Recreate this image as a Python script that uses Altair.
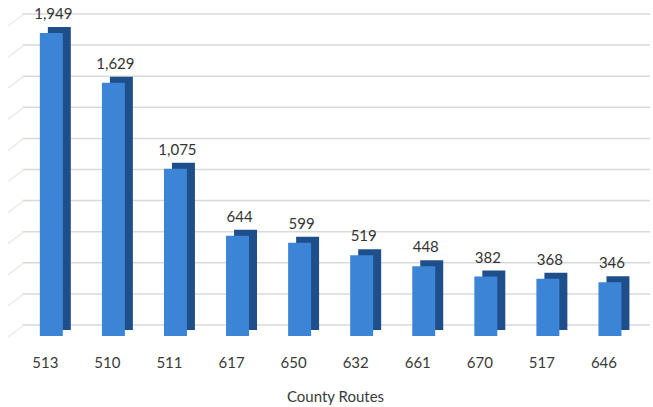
import altair as alt
import pandas as pd

routes = ["513", "510", "511", "617", "650", "632", "661", "670", "517", "646"]
counts = [1949, 1629, 1075, 644, 599, 519, 448, 382, 368, 346]
labels = ["1,949", "1,629", "1,075", "644", "599", "519", "448", "382", "368", "346"]
grid_values = [0, 200, 400, 600, 800, 1000, 1200, 1400, 1600, 1800, 2000]

df = pd.DataFrame({"route": routes, "count": counts, "label": labels})
gdf = pd.DataFrame({"g": grid_values})

yscale = alt.Scale(domain=[0, 2000], nice=False, zero=True)

x = alt.X(
    "route:N",
    sort=routes,
    scale=alt.Scale(paddingInner=0.63, paddingOuter=0.39, align=0.41),
    axis=alt.Axis(
        title="County Routes", labelAngle=0, ticks=False, domain=False,
        labelOffset=-6, labelPadding=30, labelFont="Lato", labelFontSize=15,
        labelColor="#3a3a3a", titleFont="Lato", titleFontSize=15,
        titleFontWeight="normal", titleColor="#3a3a3a", titlePadding=19,
    ),
)
y = alt.Y("count:Q", scale=yscale, axis=None)

grid = alt.Chart(gdf).mark_rule(color="#d9d9d9", strokeWidth=1.5).encode(
    x=alt.value(2), x2=alt.value(630), y=alt.Y("g:Q", scale=yscale, axis=None)
)
diag = alt.Chart(gdf).mark_rule(color="#eeebe7", strokeWidth=1.5, yOffset=12).encode(
    x=alt.value(-12), x2=alt.value(4),
    y=alt.Y("g:Q", scale=yscale, axis=None), y2=alt.Y2("g:Q"),
)

base = alt.Chart(df)
side = base.mark_bar(color="#1f4f8a", xOffset=8, x2Offset=8, yOffset=5, y2Offset=5).encode(x=x, y=y)
front = base.mark_bar(color="#3b84d6", yOffset=11, y2Offset=11).encode(x=x, y=y)
text = base.mark_text(baseline="bottom", font="Lato", fontSize=15, color="#333333", dx=2).encode(
    x=x, y=y, text="label:N"
)

chart = (
    alt.layer(grid, diag, side, front, text)
    .properties(
        width=630, height=311,
        padding={"left": 20, "top": 14, "right": 3, "bottom": 82},
        autosize="none",
        background="white",
    )
    .configure_view(stroke=None)
)

chart.save("out.html", embed_options={"renderer": "svg", "actions": False})
